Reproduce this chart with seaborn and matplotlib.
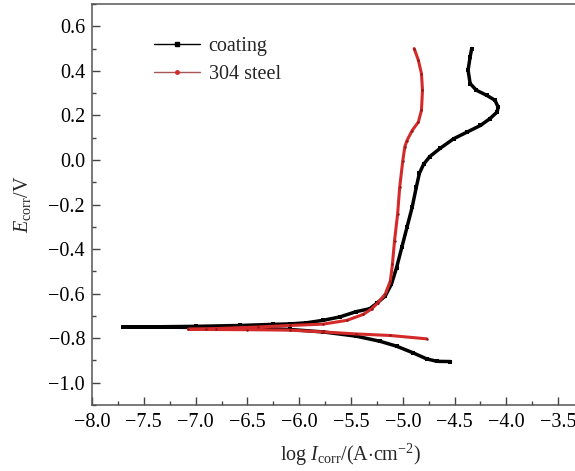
import matplotlib
matplotlib.use("Agg")
import matplotlib.pyplot as plt
import seaborn as sns
import pandas as pd
from matplotlib.lines import Line2D
from matplotlib.ticker import MultipleLocator, FuncFormatter

# ---- data ----
coating_logI = [-4.54, -4.67, -4.77, -4.90, -5.06, -5.22, -5.45, -5.77, -6.09, -6.40,
                -6.80, -7.20, -7.50, -7.70,
                -7.40, -7.00, -6.57, -6.25, -6.09, -5.93, -5.77, -5.61, -5.45, -5.32,
                -5.25, -5.17, -5.11, -5.06, -5.01, -4.96, -4.91, -4.87, -4.84, -4.80,
                -4.74, -4.64, -4.51, -4.38, -4.25, -4.16, -4.09, -4.08, -4.11, -4.19,
                -4.29, -4.35, -4.37, -4.35, -4.335]
coating_E = [-0.905, -0.904, -0.893, -0.866, -0.836, -0.814, -0.791, -0.772, -0.761, -0.756,
             -0.753, -0.751, -0.750, -0.750,
             -0.749, -0.747, -0.743, -0.738, -0.736, -0.731, -0.720, -0.705, -0.681, -0.668,
             -0.643, -0.611, -0.558, -0.483, -0.393, -0.303, -0.213, -0.123, -0.060, -0.020,
             0.015, 0.052, 0.095, 0.125, 0.155, 0.185, 0.215, 0.237, 0.268, 0.290,
             0.313, 0.343, 0.403, 0.463, 0.500]

steel_logI = [-4.77, -5.12, -5.45, -5.77, -6.09, -6.50, -6.90, -7.07,
              -6.80, -6.40, -6.09, -5.77, -5.54, -5.38, -5.30, -5.24, -5.17, -5.12,
              -5.10, -5.08, -5.05, -5.03, -5.00, -4.98, -4.96, -4.91, -4.85, -4.82,
              -4.81, -4.82, -4.85, -4.89]
steel_E = [-0.803, -0.788, -0.781, -0.772, -0.764, -0.762, -0.761, -0.760,
           -0.757, -0.750, -0.743, -0.737, -0.720, -0.693, -0.668, -0.641, -0.603, -0.543,
           -0.468, -0.363, -0.243, -0.123, -0.003, 0.060, 0.087, 0.132, 0.170, 0.222,
           0.313, 0.388, 0.448, 0.500]

series_names = ["coating", "304 steel"]
x_ticks = [-8.0, -7.5, -7.0, -6.5, -6.0, -5.5, -5.0, -4.5, -4.0, -3.5]
y_ticks = [-1.0, -0.8, -0.6, -0.4, -0.2, 0.0, 0.2, 0.4, 0.6]

# ---- style ----
sns.set_theme(style="ticks")
plt.rcParams["font.family"] = ["Liberation Serif", "DejaVu Serif"]
plt.rcParams["mathtext.fontset"] = "custom"
plt.rcParams["mathtext.rm"] = "Liberation Serif"
plt.rcParams["mathtext.it"] = "Liberation Serif:italic"
plt.rcParams["axes.unicode_minus"] = True
plt.rcParams["lines.solid_joinstyle"] = "round"
plt.rcParams["lines.solid_capstyle"] = "round"

fig = plt.figure(figsize=(5.75, 4.71), dpi=100)
# axes extends past the right edge of the picture (cropped, as in the reference)
ax = fig.add_axes([92 / 575, 1 - 405 / 471, 518 / 575, 401 / 471])

df_c = pd.DataFrame({"logI": coating_logI, "E": coating_E})
df_s = pd.DataFrame({"logI": steel_logI, "E": steel_E})

sns.lineplot(data=df_c, x="logI", y="E", sort=False, estimator=None, ax=ax,
             color="black", linewidth=2.5, marker="s", markersize=2.4,
             markeredgewidth=0, markerfacecolor="black")
sns.lineplot(data=df_s, x="logI", y="E", sort=False, estimator=None, ax=ax,
             color="#d42a2a", linewidth=2.2, marker="o", markersize=1.8,
             markeredgewidth=0, markerfacecolor="#8a1a1a")

ax.set_xlim(-8.0, -3.0)
ax.set_ylim(-1.1, 0.7)
ax.set_xticks(x_ticks)
ax.set_yticks(y_ticks)
ax.xaxis.set_minor_locator(MultipleLocator(0.25))
ax.yaxis.set_minor_locator(MultipleLocator(0.1))
fmt = FuncFormatter(lambda v, p: f"{v:.1f}".replace("-", "\u2212"))
ax.xaxis.set_major_formatter(fmt)
ax.yaxis.set_major_formatter(fmt)

ax.tick_params(which="both", direction="in", colors="#444444", labelcolor="black",
               width=1.0, labelsize=14.5)
ax.tick_params(which="major", length=6)
ax.tick_params(which="minor", length=3)
ax.tick_params(axis="x", pad=6)
ax.tick_params(axis="y", pad=5)
for s in ["left", "bottom", "top", "right"]:
    ax.spines[s].set_visible(True)
    ax.spines[s].set_color("#555555")
    ax.spines[s].set_linewidth(1.1)

ax.set_xlabel(r"log $I_{\mathrm{corr}}$/(A$\cdot$cm$^{-2}$)", fontsize=14.5, labelpad=7)
ax.set_ylabel(r"$E_{\mathrm{corr}}$/V", fontsize=14.5, labelpad=11)

handles = [
    Line2D([], [], color="black", linewidth=1.0, marker="s", markersize=3.5),
    Line2D([], [], color="#a85555", linewidth=1.0, marker="o", markersize=2.5,
           markerfacecolor="#d42a2a", markeredgecolor="#d42a2a"),
]
ax.legend(handles, series_names, loc="upper left", bbox_to_anchor=(0.12, 0.918),
          frameon=False, fontsize=14.5, handlelength=2.3, handletextpad=0.4,
          labelspacing=0.45, borderaxespad=0, borderpad=0)

fig.savefig("out.png", dpi=100)
